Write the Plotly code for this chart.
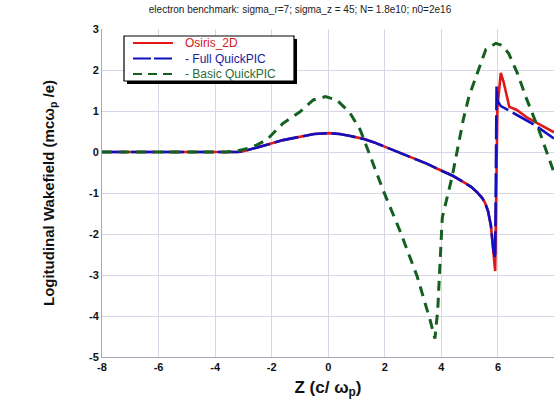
import plotly.graph_objects as go

# ---- data ----
osiris_z = [-8, -4, -3.2, -3.0, -2.6, -2.2, -1.6, -1.0, -0.5, 0.0, 0.4, 0.78, 1.24, 1.6, 2.0, 2.5, 3.0,
            3.5, 3.95, 4.4, 4.77, 5.05, 5.26, 5.45, 5.55, 5.65, 5.75, 5.83, 5.9, 5.98, 6.1, 6.2, 6.4,
            6.65, 7.05, 7.5, 7.98]
osiris_v = [0, 0, 0, 0.02, 0.09, 0.17, 0.29, 0.38, 0.44, 0.46, 0.44, 0.39, 0.32, 0.24, 0.13, -0.01, -0.15,
            -0.29, -0.44, -0.58, -0.73, -0.85, -0.98, -1.13, -1.25, -1.45, -1.8, -2.4, -2.9, 1.1, 1.93, 1.7, 1.1,
            1.03, 0.83, 0.66, 0.48]

full_qp_z = [-8, -4, -3.2, -3.0, -2.6, -2.2, -1.6, -1.0, -0.5, 0.0, 0.4, 0.78, 1.24, 1.6, 2.0, 2.5, 3.0,
             3.5, 3.95, 4.4, 4.77, 5.05, 5.26, 5.45, 5.55, 5.65, 5.75, 5.83, 5.9, 5.95, 5.98, 6.1, 6.78,
             7.3, 7.98]
full_qp_v = [0, 0, 0, 0.02, 0.09, 0.17, 0.29, 0.38, 0.44, 0.46, 0.44, 0.39, 0.32, 0.24, 0.13, -0.01, -0.15,
             -0.29, -0.44, -0.58, -0.73, -0.85, -0.98, -1.13, -1.25, -1.45, -1.8, -2.35, -2.6, 1.6, 1.25, 1.12, 0.86,
             0.66, 0.33]

basic_qp_z = [-8, -3.6, -3.3, -3.0, -2.65, -2.17, -1.6, -1.0, -0.53, -0.1, 0.3, 0.77, 1.13, 1.4, 1.95,
              2.55, 3.15, 3.6, 3.77, 3.87, 4.03, 4.38, 4.77, 4.97, 5.3, 5.57, 5.92, 6.15, 6.38, 6.7, 6.98,
              7.45, 7.98]
basic_qp_v = [0, 0, 0.02, 0.06, 0.13, 0.3, 0.7, 0.98, 1.27, 1.35, 1.27, 0.95, 0.54, 0.05, -0.95,
              -1.95, -3.05, -4.1, -4.55, -3.85, -1.6, -0.6, 0.78, 1.35, 2.0, 2.5, 2.65, 2.6, 2.4, 1.9, 1.35,
              0.53, -0.5]

x_ticks = [-8, -6, -4, -2, 0, 2, 4, 6, 8]
y_ticks = [-5, -4, -3, -2, -1, 0, 1, 2, 3]

series_names = ["Osiris_2D", "- Full QuickPIC", "- Basic QuickPIC"]
series_colors = ["#e01818", "#1010c0", "#136020"]
label_colors = ["#d42020", "#1a1aa0", "#2a6a35"]
series_dash = ["solid", "24px,5px", "10px,7px"]
series_width = [2.6, 2.6, 3]

W, H = 554, 407
L, R, T, B = 102, 0, 29, 50
PW, PH = W - L - R, H - T - B


def px(xp):
    return (xp - L) / PW


def py(yp):
    return 1 - (yp - T) / PH


fig = go.Figure()
for zs, vs, name, c, d, w in zip([osiris_z, full_qp_z, basic_qp_z], [osiris_v, full_qp_v, basic_qp_v],
                                 series_names, series_colors, series_dash, series_width):
    fig.add_trace(go.Scatter(x=zs, y=vs, mode="lines", name=name, showlegend=False,
                             line=dict(color=c, width=w, dash=d)))

# legend box (framed box with drop shadow, as in the reference)
box_top, box_bot = 36, 81
shapes = [
    dict(type="rect", xref="paper", yref="paper", x0=px(127), x1=px(297), y0=py(box_bot + 3), y1=py(box_top + 3),
         fillcolor="black", line=dict(width=0), layer="above"),
    dict(type="rect", xref="paper", yref="paper", x0=px(124), x1=px(294), y0=py(box_bot), y1=py(box_top),
         fillcolor="white", line=dict(color="black", width=1.2), layer="above"),
]
line_h = 12 * 1.3
mid = (box_top + box_bot) / 2
row_y = [mid - line_h, mid, mid + line_h]
for i, c in enumerate(series_colors):
    dash = "solid" if i == 0 else ("18px,3px" if i == 1 else "9px,6px")
    shapes.append(dict(type="line", xref="paper", yref="paper", x0=px(133), x1=px(173),
                       y0=py(row_y[i]), y1=py(row_y[i]), line=dict(color=c, width=2, dash=dash),
                       layer="above"))
legend_text = "<br>".join(f'<span style="color:{lc}">{n}</span>' for n, lc in zip(series_names, label_colors))
annotations = [dict(xref="paper", yref="paper", x=px(183), y=py(mid), xanchor="left", yanchor="middle",
                    align="left", text=legend_text, showarrow=False,
                    font=dict(family="Liberation Sans, Arial", size=12, color="#222"))]

axis_common = dict(showgrid=True, gridcolor="#d6d6e6", gridwidth=1, zeroline=False,
                   showline=True, linecolor="#a8a8bc", linewidth=1, ticks="",
                   tickfont=dict(family="Liberation Sans, Arial", size=11, color="#111"))

fig.update_layout(
    width=W, height=H,
    margin=dict(l=L, r=R, t=T, b=B),
    paper_bgcolor="white", plot_bgcolor="white",
    title=dict(text="electron benchmark: sigma_r=7; sigma_z = 45; N= 1.8e10; n0=2e16",
               font=dict(family="Liberation Sans, Arial", size=10, color="#222"),
               x=300 / W, xanchor="center", xref="container",
               y=1 - 9 / H, yanchor="middle", yref="container"),
    xaxis=dict(range=[-8, 7.98], tickvals=x_ticks, ticktext=[f"<b>{v}</b>" for v in x_ticks],
               title=dict(text="<b>Z (c/ ω<sub>p</sub>)</b>", standoff=8,
                          font=dict(family="Liberation Sans, Arial", size=17, color="#111")),
               **axis_common),
    yaxis=dict(range=[-5, 3], tickvals=y_ticks, ticktext=[f"<b>{v}</b>" for v in y_ticks],
               title=dict(text="<b>Logitudinal Wakefield (mcω<sub>p</sub> /e)</b>", standoff=30,
                          font=dict(family="Liberation Sans, Arial", size=15, color="#111")),
               **axis_common),
    shapes=shapes,
    annotations=annotations,
    showlegend=False,
)

fig.write_html("out.html")
